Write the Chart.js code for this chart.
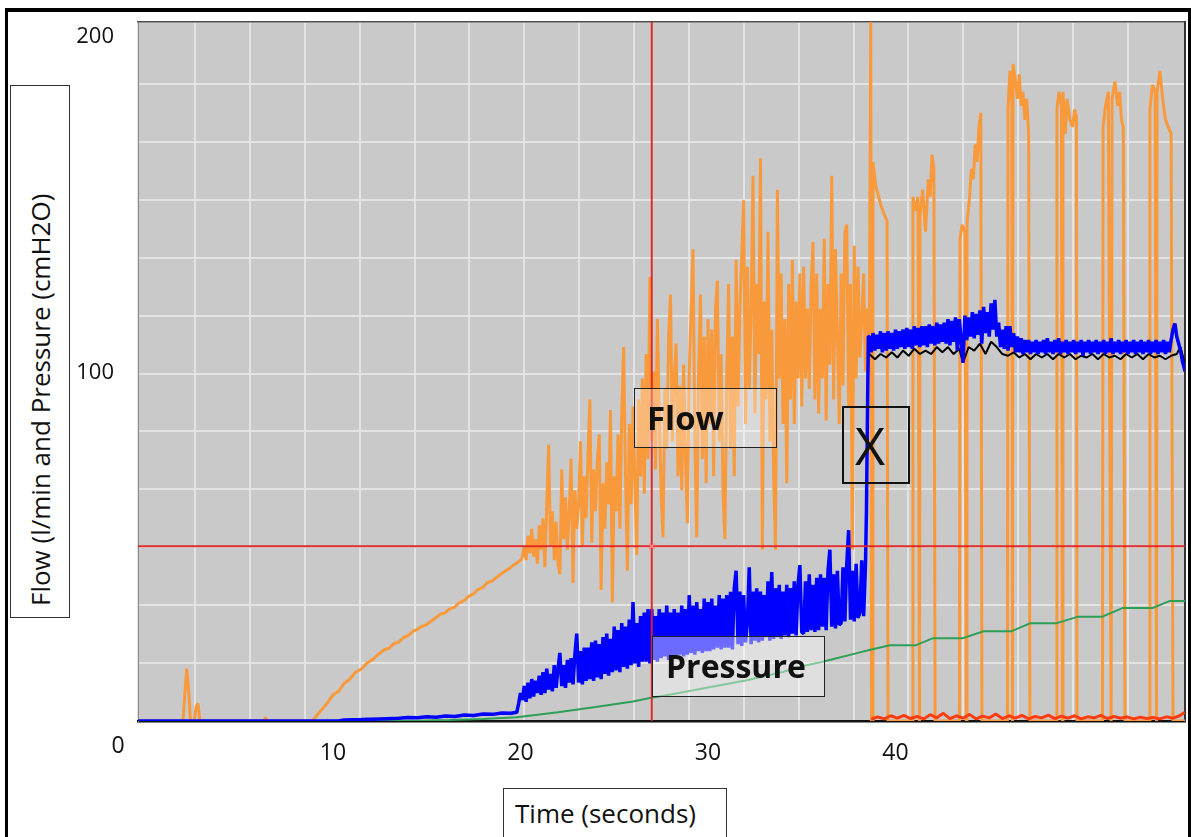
<!DOCTYPE html>
<html>
<head>
<meta charset="utf-8">
<title>Flow and pressure over time</title>
<script src="https://cdn.jsdelivr.net/npm/chart.js@4.4.1/dist/chart.umd.min.js"></script>
<style>
  html, body { margin: 0; padding: 0; background: #fff; }
  #wrap { position: relative; width: 1191px; height: 837px; overflow: hidden; font-family: "Open Sans", sans-serif; color: #111; }
  #chart { position: absolute; left: 0; top: 0; }
  .frame { position: absolute; background: #000; }
  .box { position: absolute; box-sizing: border-box; border: 1px solid #333; white-space: nowrap; }
  .rot { position: absolute; left: 0; top: 531px; width: 531px; height: 58px; line-height: 58px; box-sizing: border-box;
         padding-left: 11px; transform-origin: 0 0; transform: rotate(-90deg); font-size: 26px; }
</style>
</head>
<body>
<div id="wrap">
  <canvas id="chart" width="1191" height="837"></canvas>

  <div class="frame" style="left:5px;top:8px;width:1186px;height:4px"></div>
  <div class="frame" style="left:5px;top:8px;width:3px;height:829px"></div>
  <div class="frame" style="left:1188px;top:8px;width:3px;height:829px"></div>

  <div class="box" style="left:10px;top:85px;width:60px;height:533px;background:#fff">
    <div class="rot">Flow (l/min and Pressure (cmH2O)</div>
  </div>
  <div class="box" style="left:503px;top:788px;width:224px;height:60px;background:#fff;font-size:26px;line-height:48px;padding-left:11px">Time (seconds)</div>

  <div class="box" style="left:634px;top:388px;width:143px;height:60px;border:1.5px solid #222;background:rgba(255,255,255,0.3);font-size:33px;font-weight:700;line-height:57px;padding-left:12px">Flow</div>
  <div class="box" style="left:652px;top:636px;width:173px;height:61px;border:1.5px solid #222;background:rgba(255,255,255,0.42);font-size:32px;font-weight:700;line-height:58px;padding-left:13px">Pressure</div>
  <div class="box" style="left:842px;top:406px;width:68px;height:78px;border:2px solid #111;background:transparent;font-size:52px;line-height:74px;padding-left:11px">X</div>
</div>

<script>
// ---- data (time in seconds) ----
const xTickValues = [10, 20, 30, 40];
const yTickValues = [100, 200];

// flow, l/min (orange)
const flowTime = [
  -0.4, 2.0, 2.1, 2.2, 2.3, 2.4, 2.6, 2.7, 2.8, 2.9,
  3.0, 6.3, 6.4, 6.5, 8.9, 9.2, 9.6, 10.0, 10.3, 10.6,
  10.9, 11.2, 11.5, 11.8, 12.1, 12.4, 12.7, 13.0, 13.2, 13.5,
  13.8, 14.0, 14.3, 14.5, 14.7, 15.0, 15.2, 15.5, 15.7, 16.0,
  16.2, 16.5, 16.7, 17.0, 17.2, 17.5, 17.7, 18.0, 18.2, 18.5,
  18.7, 19.0, 19.2, 19.4, 19.6, 19.8, 20.0,
  20.1, 20.2, 20.3, 20.4, 20.5, 20.6, 20.7, 20.8, 20.9, 21.0,
  21.1, 21.2, 21.3, 21.4, 21.5, 21.6, 21.7, 21.8, 21.9, 22.0,
  22.1, 22.2, 22.3, 22.4, 22.5, 22.6, 22.7, 22.8, 22.9, 23.0,
  23.1, 23.2, 23.3, 23.4, 23.5, 23.6, 23.7, 23.8, 23.9, 24.0,
  24.1, 24.2, 24.3, 24.4, 24.5, 24.6, 24.7, 24.8, 24.9, 25.0,
  25.1, 25.2, 25.3, 25.4, 25.5, 25.6, 25.7, 25.8, 25.9, 26.0,
  26.1, 26.2, 26.3, 26.4, 26.5, 26.6, 26.7, 26.8, 26.9, 27.0,
  27.1, 27.2, 27.3, 27.4, 27.5, 27.6, 27.7, 27.8, 27.9, 28.0,
  28.1, 28.2, 28.3, 28.4, 28.5, 28.6, 28.7, 28.8, 28.9, 29.0,
  29.1, 29.2, 29.3, 29.4, 29.5, 29.6, 29.7, 29.8, 29.9, 30.0,
  30.1, 30.2, 30.3, 30.4, 30.5, 30.6, 30.7, 30.8, 30.9, 31.0,
  31.1, 31.2, 31.3, 31.4, 31.5, 31.6, 31.7, 31.8, 31.9, 32.0,
  32.1, 32.2, 32.3, 32.4, 32.5, 32.6, 32.7, 32.8, 32.9, 33.0,
  33.1, 33.2, 33.3, 33.4, 33.5, 33.6, 33.7, 33.8, 33.9, 34.0,
  34.1, 34.2, 34.3, 34.4, 34.5, 34.6, 34.7, 34.8, 34.9, 35.0,
  35.1, 35.2, 35.3, 35.4, 35.5, 35.6, 35.7, 35.8, 35.9, 36.0,
  36.1, 36.2, 36.3, 36.4, 36.5, 36.6, 36.7, 36.8, 36.9, 37.0,
  37.1, 37.2, 37.3, 37.4, 37.5, 37.6, 37.7, 37.8, 37.9, 38.0,
  38.1, 38.2, 38.3, 38.4, 38.5, 38.6,
  38.68, 38.72, 38.76, 38.80, 38.95, 39.10, 39.25, 39.40, 39.55, 39.60,
  40.90, 40.93, 41.05, 41.20, 41.28, 41.31, 41.45, 41.60, 41.75, 41.85, 41.95, 42.05, 42.11,
  43.41, 43.44, 43.55, 43.70, 43.78, 43.81, 43.95, 44.05, 44.15, 44.25, 44.35, 44.45, 44.55, 44.61,
  45.97, 46.00, 46.10, 46.20, 46.24, 46.27, 46.40, 46.50, 46.60, 46.70, 46.80, 46.90, 47.00, 47.10, 47.17,
  48.58, 48.61, 48.72, 48.85, 48.90, 48.93, 49.05, 49.15, 49.30, 49.45, 49.55, 49.65, 49.68,
  51.04, 51.07, 51.20, 51.35, 51.50, 51.55, 51.70, 51.85, 51.95, 52.05, 52.15, 52.24,
  53.54, 53.57, 53.70, 53.85, 53.92, 53.95, 54.10, 54.25, 54.40, 54.55, 54.70, 54.80, 55.44
];
const flowValue = [
  0, 0, 8, 15, 9, 0, 0, 4, 5, 0,
  0, 0, 1, 0, 0, 2, 4.5, 7.5, 8.5, 10.8,
  12, 14, 14.8, 16.5, 17.5, 19, 20.3, 20.8, 22, 22.6,
  24, 24.4, 25.8, 26.2, 27, 27.6, 28.5, 29.6, 30.5, 31,
  32, 32.6, 33.7, 34.5, 35.5, 36.4, 37.5, 38.2, 39.5, 40.1,
  41, 42.2, 43, 43.6, 44.5, 45.2, 46,
  47, 50, 46, 53, 48, 55, 47, 52, 45, 56,
  49, 58, 44, 62, 79, 50, 60, 46, 57, 45,
  42, 72, 52, 64, 49, 60, 75, 39.5, 66, 55,
  62, 80, 50, 70, 58, 76, 92, 51, 72, 60,
  75, 82, 37.5, 68, 55, 74, 62, 89, 34, 70,
  60, 82, 55, 88, 107, 70, 43, 85, 62, 90,
  68, 47.5, 92, 70, 98, 65, 105, 75, 127, 80,
  100, 72, 115, 88, 65, 52.6, 95, 78, 110, 122,
  80, 98, 108, 70, 96, 66, 102, 75, 56.6, 100,
  118, 135, 80, 52.6, 100, 122, 75, 110, 68, 115,
  85, 112, 70, 118, 126, 80, 105, 66, 52, 98,
  125, 78, 110, 70, 132, 90, 118, 133, 149, 85,
  130, 95, 118, 156, 88, 125, 105, 161, 49, 120,
  92, 140, 80, 112, 70, 49, 152, 98, 128, 85,
  115, 68, 125, 92, 132, 85, 120, 98, 128, 90,
  130, 98, 118, 95, 125, 137, 92, 128, 88, 118,
  98, 138, 86, 125, 102, 156, 92, 135, 110, 85,
  128, 96, 140, 142, 90, 125, 49, 136, 98, 130,
  104, 115, 128, 100, 118, 105,
  200, 0, 0, 160, 153, 150, 147, 145, 143, 0,
  0, 150, 146, 150, 0, 145, 152, 140, 155, 150, 162, 158, 0,
  0, 138, 142, 140, 0, 142, 150, 158, 155, 165, 160, 170, 174, 0,
  0, 175, 186, 180, 0, 188, 183, 178, 185, 176, 180, 172, 178, 168, 0,
  0, 175, 180, 176, 0, 180, 168, 178, 172, 170, 175, 173, 0,
  0, 170, 176, 180, 0, 178, 183, 176, 180, 172, 170, 0,
  0, 175, 182, 180, 0, 180, 186, 178, 172, 170, 168, 0, 0
];

// pressure, cmH2O (blue)
const pressureTime = [
  -0.4, 10.3, 10.6, 11.5, 12.5, 13.5, 14.0, 14.5, 15.0, 15.5,
  16.0, 16.5, 17.0, 17.5, 18.0, 18.5, 19.0, 19.5, 19.8, 19.9,
  20.0,
  20.1, 20.2, 20.3, 20.4, 20.5, 20.6, 20.7, 20.8, 20.9, 21.0,
  21.1, 21.2, 21.3, 21.4, 21.5, 21.6, 21.7, 21.8, 21.9, 22.0,
  22.1, 22.2, 22.3, 22.4, 22.5, 22.6, 22.7, 22.8, 22.9, 23.0,
  23.1, 23.2, 23.3, 23.4, 23.5, 23.6, 23.7, 23.8, 23.9, 24.0,
  24.1, 24.2, 24.3, 24.4, 24.5, 24.6, 24.7, 24.8, 24.9, 25.0,
  25.1, 25.2, 25.3, 25.4, 25.5, 25.6, 25.7, 25.8, 25.9, 26.0,
  26.1, 26.2, 26.3, 26.4, 26.5, 26.6, 26.7, 26.8, 26.9, 27.0,
  27.1, 27.2, 27.3, 27.4, 27.5, 27.6, 27.7, 27.8, 27.9, 28.0,
  28.1, 28.2, 28.3, 28.4, 28.5, 28.6, 28.7, 28.8, 28.9, 29.0,
  29.1, 29.2, 29.3, 29.4, 29.5, 29.6, 29.7, 29.8, 29.9, 30.0,
  30.1, 30.2, 30.3, 30.4, 30.5, 30.6, 30.7, 30.8, 30.9, 31.0,
  31.1, 31.2, 31.3, 31.4, 31.5, 31.6, 31.7, 31.8, 31.9, 32.0,
  32.1, 32.2, 32.3, 32.4, 32.5, 32.6, 32.7, 32.8, 32.9, 33.0,
  33.1, 33.2, 33.3, 33.4, 33.5, 33.6, 33.7, 33.8, 33.9, 34.0,
  34.1, 34.2, 34.3, 34.4, 34.5, 34.6, 34.7, 34.8, 34.9, 35.0,
  35.1, 35.2, 35.3, 35.4, 35.5, 35.6, 35.7, 35.8, 35.9, 36.0,
  36.1, 36.2, 36.3, 36.4, 36.5, 36.6, 36.7, 36.8, 36.9, 37.0,
  37.1, 37.2, 37.3, 37.4, 37.5, 37.6, 37.7, 37.8, 37.9, 38.0,
  38.1, 38.2, 38.3, 38.4,
  38.45, 38.5, 38.55,
  38.6, 38.7, 38.8, 38.9, 39.0, 39.1, 39.2, 39.3, 39.4, 39.5,
  39.6, 39.7, 39.8, 39.9, 40.0, 40.1, 40.2, 40.3, 40.4, 40.5,
  40.6, 40.7, 40.8, 40.9, 41.0, 41.1, 41.2, 41.3, 41.4, 41.5,
  41.6, 41.7, 41.8, 41.9, 42.0, 42.1, 42.2, 42.3, 42.4, 42.5,
  42.6, 42.7, 42.8, 42.9, 43.0, 43.1, 43.2, 43.3, 43.4, 43.5,
  43.6, 43.7, 43.8, 43.9, 44.0, 44.1, 44.2, 44.3, 44.4, 44.5,
  44.6, 44.7, 44.8, 44.9, 45.0, 45.1, 45.2, 45.3, 45.4, 45.5,
  45.6, 45.7, 45.8, 45.9, 46.0, 46.1, 46.2, 46.3, 46.4, 46.5,
  46.6, 46.7, 46.8, 46.9, 47.0, 47.1, 47.2, 47.3, 47.4, 47.5,
  47.6, 47.7, 47.8, 47.9, 48.0, 48.1, 48.2, 48.3, 48.4, 48.5,
  48.6, 48.7, 48.8, 48.9, 49.0, 49.1, 49.2, 49.3, 49.4, 49.5,
  49.6, 49.7, 49.8, 49.9, 50.0, 50.1, 50.2, 50.3, 50.4, 50.5,
  50.6, 50.7, 50.8, 50.9, 51.0, 51.1, 51.2, 51.3, 51.4, 51.5,
  51.6, 51.7, 51.8, 51.9, 52.0, 52.1, 52.2, 52.3, 52.4, 52.5,
  52.6, 52.7, 52.8, 52.9, 53.0, 53.1, 53.2, 53.3, 53.4, 53.5,
  53.6, 53.7, 53.8, 53.9, 54.0, 54.1, 54.2, 54.3, 54.4, 54.5,
  54.6, 54.7, 54.8, 54.9, 55.0, 55.1, 55.2, 55.3, 55.4, 55.44
];
const pressureValue = [
  0, 0, 0.3, 0.4, 0.6, 0.8, 1.0, 0.9, 1.2, 1.1,
  1.4, 1.3, 1.7, 1.6, 2.0, 1.9, 2.3, 2.2, 2.5, 5,
  8,
  6, 10, 5.5, 11, 6.5, 12, 7, 11.5, 8, 13,
  7.5, 14, 8, 15, 9, 13.5, 8.5, 16, 9.5, 15,
  19.5, 10, 16, 9.5, 17.5, 11, 18, 10.5, 19, 25,
  11, 20, 10.5, 21, 11.5, 21, 12, 22.5, 11.5, 23,
  12.5, 22, 12, 24, 13.5, 25, 13, 23.5, 14, 27,
  14.5, 26, 14, 28, 15.5, 27, 15, 29, 16, 34,
  16.5, 28, 15.5, 30, 17, 31, 17, 32, 16.5, 32,
  17.5, 30, 17, 32, 18, 31, 18.5, 33, 17.5, 31,
  18.5, 32, 18, 31, 19, 33, 18.5, 32, 19, 36,
  19.5, 33, 19, 34, 20, 32, 19.5, 35, 20, 34,
  20, 35, 20.5, 33, 21, 36, 20.5, 35, 21, 36,
  21, 37, 20.5, 38, 43, 22, 37, 21.5, 36, 22.5,
  28, 44, 22, 37, 23, 38, 22.5, 37, 23, 36,
  24, 40, 23, 42.6, 23.5, 38, 24, 39, 23.5, 37,
  24.5, 39, 24, 38, 25, 40, 24.5, 39, 44.6, 25.5,
  25, 40, 25.5, 42, 26, 39, 25.5, 41, 26, 42,
  27, 41, 26, 43, 49, 27, 42, 26.5, 43, 27.5,
  28, 44, 28.5, 45, 54.6, 29, 43, 28.5, 45, 29.5,
  31, 46, 30, 45,
  60, 85, 110,
  110, 105.5, 111, 106, 110.5, 106.5, 111.5, 105.5, 111, 106,
  111.5, 106.5, 111, 106, 112, 106.5, 111.5, 107, 112, 106.5,
  112.5, 107, 112, 106.5, 113, 107.5, 112.5, 107, 113, 107.5,
  113, 107, 113.5, 108, 113, 107.5, 114, 108, 113.5, 108.5,
  114, 108, 115, 107.5, 114.5, 108.5, 115.5, 106, 115, 109,
  102.5, 116, 109, 115.5, 110, 117, 109.5, 116.5, 110.5, 117.5,
  108, 118.5, 111, 117, 110, 119.5, 112, 120.5, 110, 114,
  107, 112, 106.5, 113, 106, 113, 107, 111, 105.5, 110,
  105.5, 109.5, 105, 109, 105.5, 109, 105, 108.5, 105.5, 109,
  105, 108.5, 105.5, 109, 105, 109.5, 105.5, 108.5, 105, 109,
  105.5, 109.5, 105, 108.5, 105.5, 109, 105, 108.5, 105.5, 109,
  105, 108.5, 105.5, 109, 104.5, 108.5, 105.5, 109, 105, 108.5,
  105.5, 109, 105, 108.5, 105.5, 109, 105, 108.5, 105.5, 109.5,
  105, 108.5, 105.5, 109, 105, 108.5, 105.5, 109, 105, 108.5,
  105.5, 109, 105, 108.5, 105.5, 109, 105, 108.5, 105.5, 109,
  105, 108.5, 105.5, 109, 105, 108.5, 105.5, 109, 105, 108.5,
  105.5, 109, 112, 113.7, 110, 108, 106, 103, 101, 100
];

// second pressure trace (black), only visible under the blue band after the step
const pressure2Time = [
  38.5, 38.55,
  38.6, 38.9, 39.2, 39.5, 39.8, 40.1, 40.4, 40.7, 41.0, 41.3,
  41.6, 41.9, 42.2, 42.5, 42.8, 43.1, 43.4, 43.6, 43.9, 44.2,
  44.5, 44.8, 45.1, 45.4, 45.7, 46.0, 46.3, 46.6, 46.9, 47.2,
  47.5, 47.8, 48.1, 48.4, 48.7, 49.0, 49.3, 49.6, 49.9, 50.2,
  50.5, 50.8, 51.1, 51.4, 51.7, 52.0, 52.3, 52.6, 52.9, 53.2,
  53.5, 53.8, 54.1, 54.4, 54.7, 55.0, 55.2, 55.44
];
const pressure2Value = [
  85, 104,
  105, 103.5, 105, 104, 105.5, 104, 106, 104.5, 106.5, 105,
  106, 105, 107, 105.5, 107, 105, 106.5, 102.5, 107, 106,
  108, 105, 108.5, 107, 105, 104.5, 105.5, 104, 105, 103.5,
  105, 104, 105, 103.5, 105, 104, 105, 103.5, 104.5, 104,
  105, 103.5, 105, 104, 104.5, 103.5, 105, 104, 105, 103.5,
  105, 104, 104.5, 103.5, 104.5, 105, 107, 102
];

// slow trend (green)
const trendTime = [
  -0.4, 14, 16.2, 18, 19.8, 22, 24, 26, 26.9, 28,
  30, 32, 34, 34.9, 36, 38, 38.6, 39.7, 41.1, 42,
  43.6, 44.7, 46.2, 47.2, 48.6, 49.7, 51, 52.1, 53.7, 54.6,
  55.44
];
const trendValue = [
  0, 0, 0.3, 0.6, 1.1, 2.5, 4, 5.6, 6.6, 7.6,
  9.6, 11.6, 14, 15.5, 16.8, 19.5, 20.3, 21.7, 21.7, 23.7,
  23.7, 25.7, 25.7, 28, 28, 29.8, 29.8, 32.3, 32.3, 34.3,
  34.3
];

// baseline trace after the valve step (red)
const baseTime = [
  38.7, 39.05, 39.4, 39.75, 40.1, 40.45, 40.8, 41.15, 41.5, 41.85,
  42.2, 42.55, 42.9, 43.25, 43.6, 43.95, 44.3, 44.65, 45.0, 45.35,
  45.7, 46.05, 46.4, 46.75, 47.1, 47.45, 47.8, 48.15, 48.5, 48.85,
  49.2, 49.55, 49.9, 50.25, 50.6, 50.95, 51.3, 51.65, 52.0, 52.35,
  52.7, 53.05, 53.4, 53.75, 54.1, 54.45, 54.8, 55.15, 55.44
];
const baseValue = [
  0.5, 1.2, 0.6, 1.5, 0.8, 1.6, 0.7, 1.3, 0.6, 1.8,
  0.9, 2.2, 0.7, 1.5, 0.8, 1.9, 0.6, 1.4, 0.9, 2.0,
  0.7, 1.5, 0.8, 1.6, 0.6, 1.3, 0.9, 1.7, 0.7, 1.4,
  0.8, 1.5, 0.6, 1.2, 0.9, 1.6, 0.7, 1.3, 0.8, 1.2,
  0.6, 1.1, 0.7, 1.0, 0.6, 1.2, 0.8, 1.5, 2.5
];

// cursor
const cursorTime = [27.0];
const cursorValue = [50];

// axis ranges
const X_MIN = -0.4, X_MAX = 55.44;
const Y_MIN = 0, Y_MAX = 200;

// ---- chart ----
const FONT = '"Open Sans", sans-serif';
Chart.defaults.font.family = FONT;

const pts = (ts, vs) => ts.map((t, i) => ({ x: t, y: vs[i] }));

function lineSet(label, ts, vs, color, width) {
  return {
    label: label,
    data: pts(ts, vs),
    borderColor: color,
    borderWidth: width,
    borderJoinStyle: 'bevel',
    pointRadius: 0,
    tension: 0,
    fill: false
  };
}

const plotBackground = {
  id: 'plotBackground',
  beforeDraw(chart) {
    const { ctx, chartArea: a } = chart;
    ctx.save();
    ctx.fillStyle = '#c9c9c9';
    ctx.fillRect(a.left, a.top, a.right - a.left, a.bottom - a.top);
    ctx.restore();
  }
};

// the "0" sits in the corner under the origin
const originLabel = {
  id: 'originLabel',
  afterDraw(chart) {
    const x = chart.scales.x;
    const ctx = chart.ctx;
    ctx.save();
    ctx.font = '23px ' + FONT;
    ctx.fillStyle = '#111';
    ctx.textAlign = 'center';
    ctx.textBaseline = 'middle';
    ctx.fillText('0', x.left - 20, x.top + 25);
    ctx.restore();
  }
};

const cursorColor = 'rgba(225, 35, 35, 0.95)';

new Chart(document.getElementById('chart').getContext('2d'), {
  type: 'line',
  data: {
    datasets: [
      {
        label: 'cursor point',
        data: pts(cursorTime, cursorValue),
        showLine: false,
        pointStyle: 'crossRot',
        pointRadius: 4,
        pointBorderColor: '#ff8c8c',
        pointBorderWidth: 1.5
      },
      lineSet('cursor time', [cursorTime[0], cursorTime[0]], [Y_MIN - 10, Y_MAX + 10], cursorColor, 2),
      lineSet('cursor value', [X_MIN - 1, X_MAX + 1], [cursorValue[0], cursorValue[0]], cursorColor, 2),
      lineSet('Baseline', baseTime, baseValue, '#ff3c12', 3),
      lineSet('Pressure', pressureTime, pressureValue, '#0000ff', 3.5),
      lineSet('Pressure 2', pressure2Time, pressure2Value, '#000000', 2),
      lineSet('Trend', trendTime, trendValue, '#2f9e57', 2),
      lineSet('Flow', flowTime, flowValue, '#f89a3c', 3)
    ]
  },
  options: {
    responsive: false,
    animation: false,
    events: [],
    layout: { padding: { top: 22, right: 6, left: 0, bottom: 0 } },
    plugins: {
      legend: { display: false },
      tooltip: { enabled: false }
    },
    scales: {
      x: {
        type: 'linear',
        position: 'bottom',
        min: X_MIN,
        max: X_MAX,
        afterBuildTicks: s => { s.ticks = xTickValues.map(v => ({ value: v })); },
        afterFit: s => { s.height = 116; s.paddingLeft = 0; s.paddingRight = 0; },
        ticks: { font: { size: 23 }, color: '#111', padding: 19, maxRotation: 0, autoSkip: false },
        grid: { display: false, drawTicks: false },
        border: { display: true, color: '#111', width: 2.5 }
      },
      y: {
        type: 'linear',
        display: false,
        min: Y_MIN,
        max: Y_MAX
      },
      yl: {
        type: 'linear',
        position: 'left',
        min: -3.6,
        max: 204.5,
        afterBuildTicks: s => { s.ticks = yTickValues.map(v => ({ value: v })); },
        afterFit: s => { s.width = 138; s.paddingTop = 0; s.paddingBottom = 0; },
        ticks: { font: { size: 22 }, color: '#111', padding: 24 },
        grid: { display: false, drawTicks: false },
        border: { display: true, color: '#8a8a8a', width: 1 }
      },
      gx: {
        type: 'linear',
        position: 'top',
        min: -0.04,
        max: 19.04,
        afterFit: s => { s.height = 0; s.paddingLeft = 0; s.paddingRight = 0; },
        ticks: { display: false, stepSize: 1 },
        grid: { color: '#e3e3e3', lineWidth: 2, drawTicks: false },
        border: { display: true, color: '#4a4a4a', width: 1.5 }
      },
      gy: {
        type: 'linear',
        position: 'right',
        min: 0,
        max: 12.07,
        afterFit: s => { s.width = 0; s.paddingTop = 0; s.paddingBottom = 0; },
        ticks: { display: false, stepSize: 1 },
        grid: { color: '#e3e3e3', lineWidth: 2, drawTicks: false },
        border: { display: true, color: '#333', width: 2 }
      }
    }
  },
  plugins: [plotBackground, originLabel]
});
</script>
</body>
</html>
